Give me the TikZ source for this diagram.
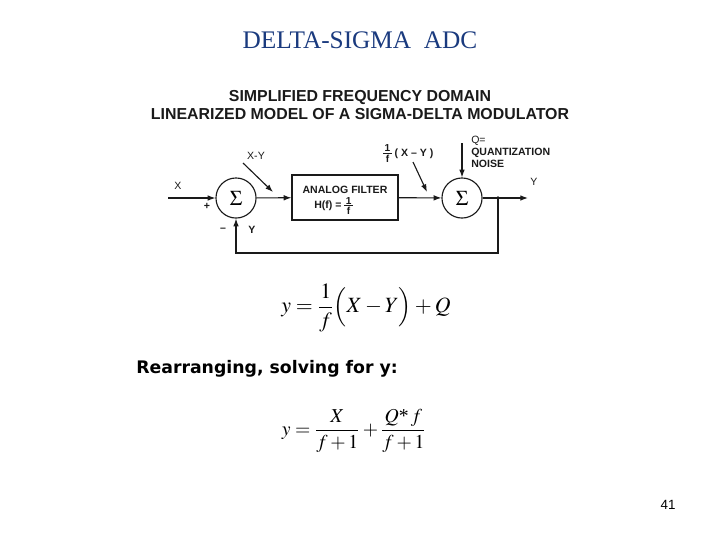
\documentclass[tikz,border=0pt]{standalone}
\usepackage{amsmath}
\usepackage{mathptmx}
\usepackage{fontspec}
\setmainfont{Liberation Serif}
\newfontfamily\arialfont{Liberation Sans}
\newfontfamily\verdfont{DejaVu Sans}
\usepackage{tikz}
\usetikzlibrary{positioning,arrows.meta,calc}
\definecolor{titleblue}{HTML}{1A3A7E}
\definecolor{inkdark}{HTML}{1A1A1A}
\newcommand{\sdfrac}{\ensuremath{\vcenter{\fontsize{7.2}{7.5}\selectfont\offinterlineskip
  \halign{\hfil\kern1pt##\kern1pt\hfil\cr 1\cr\noalign{\kern0.8pt\hrule height 0.6pt\kern0.8pt}f\cr}}}}
\tikzset{
  sd sum/.style={circle, draw=inkdark, line width=0.8pt, minimum size=28.5pt, inner sep=0pt, font=\fontsize{15}{15}\selectfont},
  sd box/.style={draw=inkdark, line width=0.8pt, minimum width=75.4pt, minimum height=32pt, inner sep=0pt},
  sd arr/.style={-{Latex[length=5.5pt, width=4pt]}, line width=0.8pt, inkdark},
  sd lab/.style={font=\arialfont\fontsize{7.5}{8.5}\selectfont, text=inkdark, inner sep=0pt},
  sd blab/.style={sd lab, font=\arialfont\bfseries\fontsize{7.5}{8.5}\selectfont},
  sd head/.style={font=\arialfont\bfseries\fontsize{11.3}{13}\selectfont, align=center, text=inkdark},
  sd eq/.style={inner sep=0pt, text=black},
}
\begin{document}
\begin{tikzpicture}[x=0.025cm, y=-0.025cm]
  \useasboundingbox (0,0) rectangle (720,540);
  % headings
  \node[font=\fontsize{18}{19}\selectfont, text=titleblue] (ttl) at (360,40) {DELTA-SIGMA\ \ ADC};
  \node[sd head] (sub) at (360,105) {SIMPLIFIED FREQUENCY DOMAIN\\LINEARIZED MODEL OF A SIGMA-DELTA MODULATOR};
  % block diagram
  \node[sd sum] (s1) at (236,198) {$\Sigma$};
  \node[sd box] (flt) at (345,197.5) {};
  \node[sd blab] (fltt) at (345,190) {ANALOG FILTER};
  \node[sd blab, anchor=base west] (flth) at (314,208.5) {H(f) = \sdfrac};
  \node[sd sum] (s2) at (462,198) {$\Sigma$};
  \coordinate (xin) at (168,198);
  \coordinate (yout) at (528,198);
  \coordinate (tap) at (498,198);
  \coordinate (qin) at (462,143);
  \draw[sd arr] (xin) -- (s1);
  \draw[sd arr] (s1) -- (flt);
  \draw[sd arr] (flt) -- (s2);
  \draw[sd arr] (s2) -- (yout);
  \draw[sd arr] (qin) -- (s2);
  \draw[sd arr] (tap) -- ++(0,55) -| (s1.south);
  \fill[inkdark] (tap) circle (1.8);
  % labels
  \node[sd lab] (lx) at (178,186) {X};
  \node[sd lab] (ly) at (534,182) {Y};
  \node[sd blab] (lp) at (207,206) {+};
  \node[sd blab] (lm) at (223,230) {\textendash};
  \node[sd blab] (lyf) at (252,230) {Y};
  \node[sd lab] (lxy) at (256,156) {X-Y};
  \coordinate (axy) at (243,163);
  \draw[sd arr] (axy) -- (273,192);
  \node[sd blab, anchor=base west] (lff) at (383,156) {\sdfrac\ ( X \textendash\ Y )};
  \coordinate (aff) at (413,162);
  \draw[sd arr] (aff) -- (427,192);
  \node[sd lab, anchor=west] (lq) at (471,141) {Q=};
  \node[sd blab, anchor=west, align=left] (lqn) at (471,157.5) {QUANTIZATION\\NOISE};
  % equations
  \node[sd eq, font=\fontsize{15.5}{16}\selectfont] (eq1) at (366,308)
    {$y=\dfrac{1}{f}\Bigl(X-Y\Bigr)+Q$};
  \node[font=\verdfont\bfseries\fontsize{12.3}{14}\selectfont, anchor=west, inner sep=0pt] (rea) at (136,369)
    {Rearranging, solving for y:};
  \node[sd eq, font=\fontsize{14}{15}\selectfont] (eq2) at (354,431)
    {$y=\dfrac{X}{f+1}+\dfrac{Q\text{*}\,f}{f+1}$};
  % page number
  \node[font=\arialfont\fontsize{9.5}{10}\selectfont, inner sep=0pt] (pg) at (668,505) {41};
\end{tikzpicture}
\end{document}
